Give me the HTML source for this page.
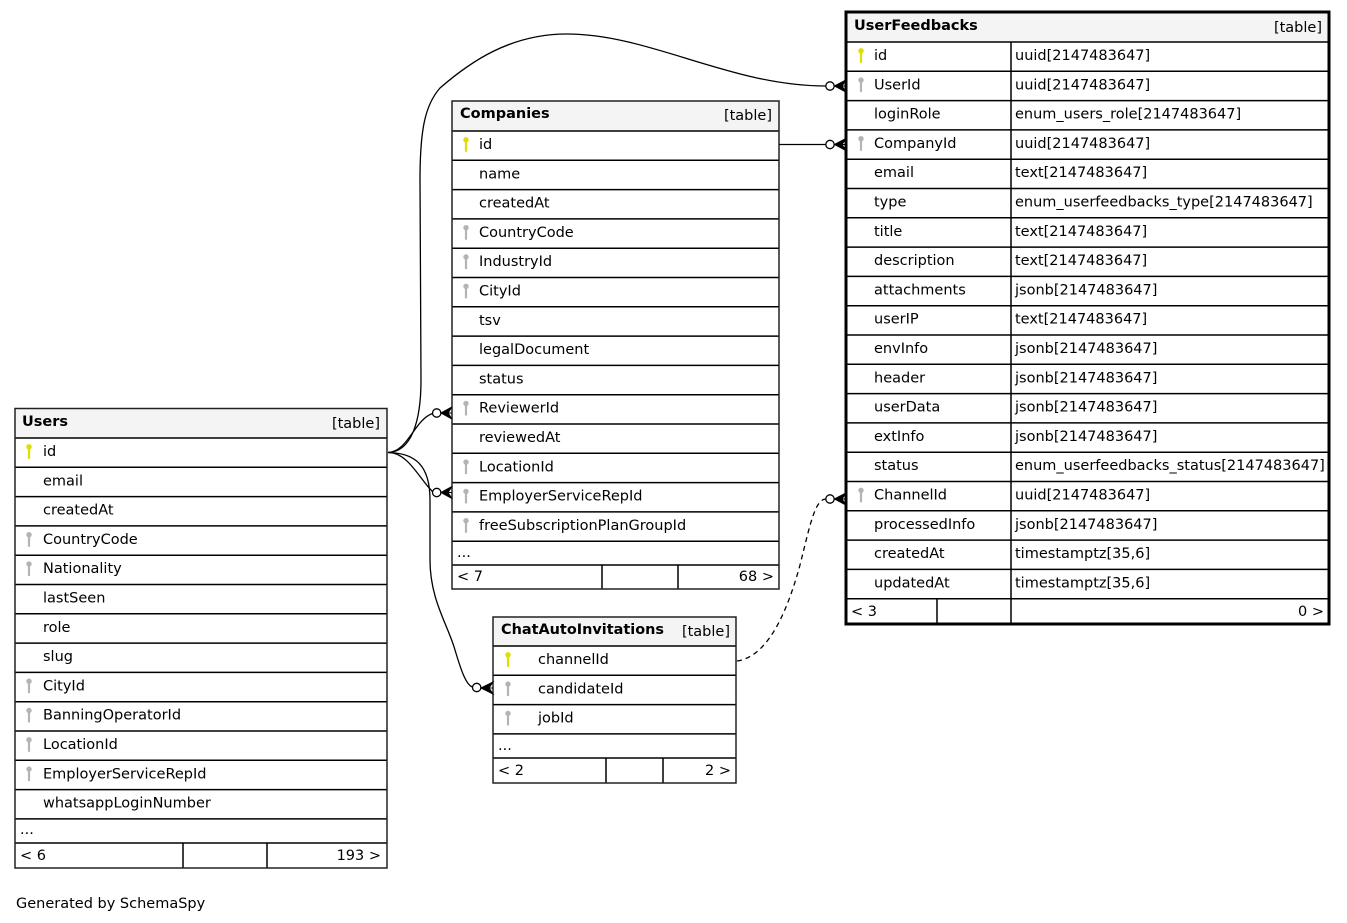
<!DOCTYPE html>
<html><head><meta charset="utf-8"><style>
html,body{margin:0;padding:0;background:#fff;}
svg{display:block;}
text{font-family:"DejaVu Sans","Liberation Sans",sans-serif;font-size:14.5px;fill:#000;}
.b{font-weight:bold;}
.e{text-anchor:end;}
.ln{stroke:#000;stroke-width:1.5;}
.cn{fill:none;stroke:#000;stroke-width:1.3;}
</style></head><body>
<svg width="1347" height="923" viewBox="0 0 1347 923" xmlns="http://www.w3.org/2000/svg">
<defs>
<g id="kp"><circle cx="0" cy="0.5" r="2.7" fill="#dede00"/><rect x="-1.1" y="0" width="2.2" height="12.5" fill="#dede00"/></g>
<g id="kf"><circle cx="0" cy="0.5" r="2.7" fill="#b4b4b4"/><rect x="-1.1" y="0" width="2.2" height="12.5" fill="#b4b4b4"/></g>
</defs>
<rect width="1347" height="923" fill="#fff"/>

<!-- ===== UserFeedbacks ===== -->
<rect x="846" y="12" width="483" height="612" fill="#fff"/>
<rect x="846" y="12" width="483" height="30" fill="#f4f4f4"/>
<g class="ln">
<line x1="846" y1="42" x2="1329" y2="42"/><line x1="846" y1="71.3" x2="1329" y2="71.3"/><line x1="846" y1="100.6" x2="1329" y2="100.6"/><line x1="846" y1="129.9" x2="1329" y2="129.9"/><line x1="846" y1="159.2" x2="1329" y2="159.2"/><line x1="846" y1="188.5" x2="1329" y2="188.5"/><line x1="846" y1="217.8" x2="1329" y2="217.8"/><line x1="846" y1="247.1" x2="1329" y2="247.1"/><line x1="846" y1="276.4" x2="1329" y2="276.4"/><line x1="846" y1="305.7" x2="1329" y2="305.7"/><line x1="846" y1="335" x2="1329" y2="335"/><line x1="846" y1="364.3" x2="1329" y2="364.3"/><line x1="846" y1="393.6" x2="1329" y2="393.6"/><line x1="846" y1="422.9" x2="1329" y2="422.9"/><line x1="846" y1="452.2" x2="1329" y2="452.2"/><line x1="846" y1="481.5" x2="1329" y2="481.5"/><line x1="846" y1="510.8" x2="1329" y2="510.8"/><line x1="846" y1="540.1" x2="1329" y2="540.1"/><line x1="846" y1="569.4" x2="1329" y2="569.4"/><line x1="846" y1="598.7" x2="1329" y2="598.7"/>
<line x1="1011" y1="42" x2="1011" y2="624"/><line x1="937" y1="598.7" x2="937" y2="624"/>
</g>
<rect x="846" y="12" width="483" height="612" fill="none" stroke="#000" stroke-width="3"/>
<text x="854" y="30" class="b">UserFeedbacks</text><text x="1322" y="32" class="e">[table]</text>
<use href="#kp" x="861" y="50.3"/><use href="#kf" x="861" y="79.6"/><use href="#kf" x="861" y="138.2"/><use href="#kf" x="861" y="489.8"/>
<text x="874" y="60">id</text><text x="1015" y="60">uuid[2147483647]</text>
<text x="874" y="89.3">UserId</text><text x="1015" y="89.3">uuid[2147483647]</text>
<text x="874" y="118.6">loginRole</text><text x="1015" y="118.6">enum_users_role[2147483647]</text>
<text x="874" y="147.9">CompanyId</text><text x="1015" y="147.9">uuid[2147483647]</text>
<text x="874" y="177.2">email</text><text x="1015" y="177.2">text[2147483647]</text>
<text x="874" y="206.5">type</text><text x="1015" y="206.5">enum_userfeedbacks_type[2147483647]</text>
<text x="874" y="235.8">title</text><text x="1015" y="235.8">text[2147483647]</text>
<text x="874" y="265.1">description</text><text x="1015" y="265.1">text[2147483647]</text>
<text x="874" y="294.4">attachments</text><text x="1015" y="294.4">jsonb[2147483647]</text>
<text x="874" y="323.7">userIP</text><text x="1015" y="323.7">text[2147483647]</text>
<text x="874" y="353">envInfo</text><text x="1015" y="353">jsonb[2147483647]</text>
<text x="874" y="382.3">header</text><text x="1015" y="382.3">jsonb[2147483647]</text>
<text x="874" y="411.6">userData</text><text x="1015" y="411.6">jsonb[2147483647]</text>
<text x="874" y="440.9">extInfo</text><text x="1015" y="440.9">jsonb[2147483647]</text>
<text x="874" y="470.2">status</text><text x="1015" y="470.2">enum_userfeedbacks_status[2147483647]</text>
<text x="874" y="499.5">ChannelId</text><text x="1015" y="499.5">uuid[2147483647]</text>
<text x="874" y="528.8">processedInfo</text><text x="1015" y="528.8">jsonb[2147483647]</text>
<text x="874" y="558.1">createdAt</text><text x="1015" y="558.1">timestamptz[35,6]</text>
<text x="874" y="587.4">updatedAt</text><text x="1015" y="587.4">timestamptz[35,6]</text>
<text x="851" y="616">&lt; 3</text><text x="1324" y="616" class="e">0 &gt;</text>

<!-- ===== Companies ===== -->
<rect x="452" y="101" width="327" height="488" fill="#fff"/>
<rect x="452" y="101" width="327" height="30" fill="#f4f4f4"/>
<g class="ln">
<line x1="452" y1="131" x2="779" y2="131"/><line x1="452" y1="160.3" x2="779" y2="160.3"/><line x1="452" y1="189.6" x2="779" y2="189.6"/><line x1="452" y1="218.9" x2="779" y2="218.9"/><line x1="452" y1="248.2" x2="779" y2="248.2"/><line x1="452" y1="277.5" x2="779" y2="277.5"/><line x1="452" y1="306.8" x2="779" y2="306.8"/><line x1="452" y1="336.1" x2="779" y2="336.1"/><line x1="452" y1="365.4" x2="779" y2="365.4"/><line x1="452" y1="394.7" x2="779" y2="394.7"/><line x1="452" y1="424" x2="779" y2="424"/><line x1="452" y1="453.3" x2="779" y2="453.3"/><line x1="452" y1="482.6" x2="779" y2="482.6"/><line x1="452" y1="511.9" x2="779" y2="511.9"/><line x1="452" y1="541.2" x2="779" y2="541.2"/><line x1="452" y1="565" x2="779" y2="565"/>
<line x1="602" y1="565" x2="602" y2="589"/><line x1="678" y1="565" x2="678" y2="589"/>
</g>
<rect x="452" y="101" width="327" height="488" fill="none" stroke="#222" stroke-width="1.5"/>
<text x="460" y="118" class="b">Companies</text><text x="772" y="120" class="e">[table]</text>
<use href="#kp" x="466" y="139.3"/><use href="#kf" x="466" y="227.2"/><use href="#kf" x="466" y="256.5"/><use href="#kf" x="466" y="285.8"/><use href="#kf" x="466" y="403"/><use href="#kf" x="466" y="461.6"/><use href="#kf" x="466" y="490.9"/><use href="#kf" x="466" y="520.2"/>
<text x="479" y="149">id</text>
<text x="479" y="178.3">name</text>
<text x="479" y="207.6">createdAt</text>
<text x="479" y="236.9">CountryCode</text>
<text x="479" y="266.2">IndustryId</text>
<text x="479" y="295.5">CityId</text>
<text x="479" y="324.8">tsv</text>
<text x="479" y="354.1">legalDocument</text>
<text x="479" y="383.4">status</text>
<text x="479" y="412.7">ReviewerId</text>
<text x="479" y="442">reviewedAt</text>
<text x="479" y="471.3">LocationId</text>
<text x="479" y="500.6">EmployerServiceRepId</text>
<text x="479" y="529.9">freeSubscriptionPlanGroupId</text>
<text x="457" y="557">...</text>
<text x="457" y="581">&lt; 7</text><text x="774" y="581" class="e">68 &gt;</text>

<!-- ===== Users ===== -->
<rect x="15" y="408.5" width="372" height="459.5" fill="#fff"/>
<rect x="15" y="408.5" width="372" height="29.5" fill="#f4f4f4"/>
<g class="ln">
<line x1="15" y1="438" x2="387" y2="438"/><line x1="15" y1="467.3" x2="387" y2="467.3"/><line x1="15" y1="496.6" x2="387" y2="496.6"/><line x1="15" y1="525.9" x2="387" y2="525.9"/><line x1="15" y1="555.2" x2="387" y2="555.2"/><line x1="15" y1="584.5" x2="387" y2="584.5"/><line x1="15" y1="613.8" x2="387" y2="613.8"/><line x1="15" y1="643.1" x2="387" y2="643.1"/><line x1="15" y1="672.4" x2="387" y2="672.4"/><line x1="15" y1="701.7" x2="387" y2="701.7"/><line x1="15" y1="731" x2="387" y2="731"/><line x1="15" y1="760.3" x2="387" y2="760.3"/><line x1="15" y1="789.6" x2="387" y2="789.6"/><line x1="15" y1="818.9" x2="387" y2="818.9"/><line x1="15" y1="843" x2="387" y2="843"/>
<line x1="183" y1="843" x2="183" y2="868"/><line x1="267" y1="843" x2="267" y2="868"/>
</g>
<rect x="15" y="408.5" width="372" height="459.5" fill="none" stroke="#222" stroke-width="1.5"/>
<text x="22" y="426" class="b">Users</text><text x="380" y="428" class="e">[table]</text>
<use href="#kp" x="29" y="446.3"/><use href="#kf" x="29" y="534.2"/><use href="#kf" x="29" y="563.5"/><use href="#kf" x="29" y="680.7"/><use href="#kf" x="29" y="710"/><use href="#kf" x="29" y="739.3"/><use href="#kf" x="29" y="768.6"/>
<text x="43" y="456">id</text>
<text x="43" y="485.3">email</text>
<text x="43" y="514.6">createdAt</text>
<text x="43" y="543.9">CountryCode</text>
<text x="43" y="573.2">Nationality</text>
<text x="43" y="602.5">lastSeen</text>
<text x="43" y="631.8">role</text>
<text x="43" y="661.1">slug</text>
<text x="43" y="690.4">CityId</text>
<text x="43" y="719.7">BanningOperatorId</text>
<text x="43" y="749">LocationId</text>
<text x="43" y="778.3">EmployerServiceRepId</text>
<text x="43" y="807.6">whatsappLoginNumber</text>
<text x="20" y="834">...</text>
<text x="20" y="860">&lt; 6</text><text x="381" y="860" class="e">193 &gt;</text>

<!-- ===== ChatAutoInvitations ===== -->
<rect x="493" y="617" width="243" height="166" fill="#fff"/>
<rect x="493" y="617" width="243" height="29" fill="#f4f4f4"/>
<g class="ln">
<line x1="493" y1="646" x2="736" y2="646"/><line x1="493" y1="675.3" x2="736" y2="675.3"/><line x1="493" y1="704.6" x2="736" y2="704.6"/><line x1="493" y1="733.9" x2="736" y2="733.9"/><line x1="493" y1="758" x2="736" y2="758"/>
<line x1="606" y1="758" x2="606" y2="783"/><line x1="663" y1="758" x2="663" y2="783"/>
</g>
<rect x="493" y="617" width="243" height="166" fill="none" stroke="#222" stroke-width="1.5"/>
<text x="501" y="634" class="b" textLength="163" lengthAdjust="spacingAndGlyphs">ChatAutoInvitations</text><text x="730" y="636" class="e">[table]</text>
<use href="#kp" x="508" y="654.3"/><use href="#kf" x="508" y="683.6"/><use href="#kf" x="508" y="712.9"/>
<text x="538" y="664">channelId</text>
<text x="538" y="693.3">candidateId</text>
<text x="538" y="722.6">jobId</text>
<text x="498" y="750">...</text>
<text x="498" y="775">&lt; 2</text><text x="731" y="775" class="e">2 &gt;</text>

<!-- ===== Connectors ===== -->
<path class="cn" d="M388,452.5 C412,452 421,420 421,380 L420,180 C420,130 425,105 440,88 C470,62 510,34 567,34 C650,34 730,86 826,86"/>
<path class="cn" d="M779,144.5 L826,144.5"/>
<path class="cn" d="M388,452.5 C408,452 414,420 432.5,413.5"/>
<path class="cn" d="M388,452.5 C408,452 420,480 432.5,491.5"/>
<path class="cn" d="M388,452.5 C415,453 430,465 430,500 L430,560 C430,600 448,625 455,650 C461,670 466,685 472.5,687"/>
<path class="cn" stroke-dasharray="5,4" d="M737,661 C765,657 785,620 800,565 C810,525 815,499 826,499"/>

<!-- circles -->
<g fill="#fff" stroke="#000" stroke-width="1.3">
<circle cx="830" cy="86" r="4.2"/>
<circle cx="830" cy="144.5" r="4.2"/>
<circle cx="830" cy="499" r="4.2"/>
<circle cx="436.7" cy="413" r="4.2"/>
<circle cx="436.7" cy="492.5" r="4.2"/>
<circle cx="476.7" cy="687.5" r="4.2"/>
</g>
<!-- crow's feet -->
<g fill="#000" stroke="#000" stroke-width="1">
<path d="M834.5,86 L846,80 L842,86 L846,92 Z M834.5,86 L846,86"/>
<path d="M834.5,144.5 L846,138.5 L842,144.5 L846,150.5 Z M834.5,144.5 L846,144.5"/>
<path d="M834.5,499 L846,493 L842,499 L846,505 Z M834.5,499 L846,499"/>
<path d="M441,413 L452,407 L448,413 L452,419 Z M441,413 L452,413"/>
<path d="M441,492.5 L452,486.5 L448,492.5 L452,498.5 Z M441,492.5 L452,492.5"/>
<path d="M481,688 L493,682 L489,688 L493,694 Z M481,688 L493,688"/>
</g>

<text x="16" y="908">Generated by SchemaSpy</text>
</svg>
</body></html>
